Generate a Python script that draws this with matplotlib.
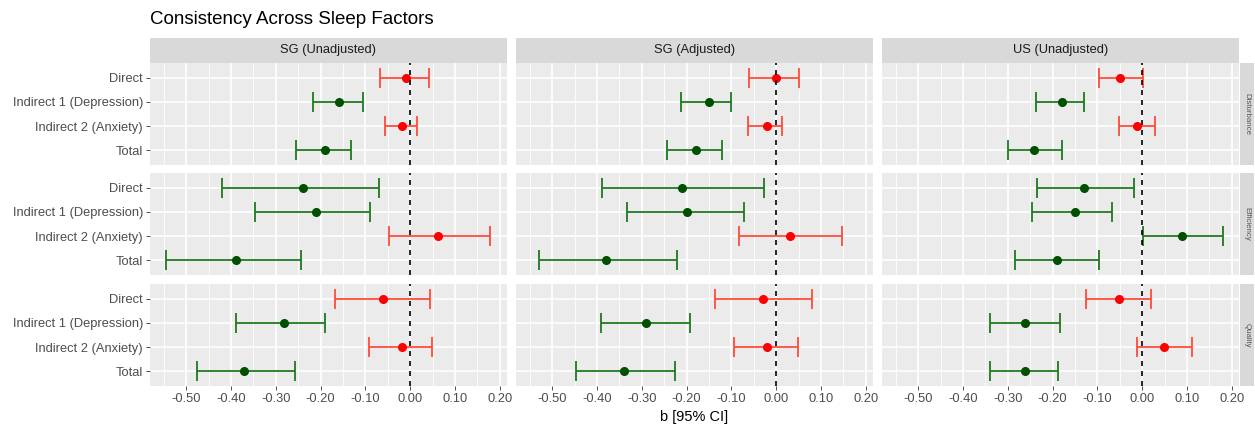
import numpy as np
import matplotlib
matplotlib.use("Agg")
from matplotlib import pyplot as plt

plt.rcParams['font.family'] = ['Liberation Sans', 'DejaVu Sans']

columns = ["SG (Unadjusted)", "SG (Adjusted)", "US (Unadjusted)"]
factors = ["Disturbance", "Efficiency", "Quality"]
effects = ["Direct", "Indirect 1 (Depression)", "Indirect 2 (Anxiety)", "Total"]

# rows = factors (Disturbance, Efficiency, Quality), cols = effects
sg_unadj_est = [[-0.010, -0.160, -0.019, -0.190],
                [-0.240, -0.210, 0.061, -0.390],
                [-0.060, -0.281, -0.019, -0.371]]
sg_unadj_lo = [[-0.067, -0.217, -0.056, -0.254],
               [-0.420, -0.346, -0.047, -0.545],
               [-0.167, -0.388, -0.092, -0.477]]
sg_unadj_hi = [[0.042, -0.106, 0.015, -0.133],
               [-0.069, -0.089, 0.177, -0.244],
               [0.045, -0.191, 0.048, -0.257]]

sg_adj_est = [[0.000, -0.150, -0.020, -0.179],
              [-0.210, -0.199, 0.030, -0.379],
              [-0.030, -0.290, -0.020, -0.340]]
sg_adj_lo = [[-0.060, -0.212, -0.062, -0.243],
             [-0.388, -0.333, -0.083, -0.529],
             [-0.137, -0.392, -0.094, -0.446]]
sg_adj_hi = [[0.051, -0.101, 0.013, -0.122],
             [-0.028, -0.073, 0.146, -0.222],
             [0.080, -0.192, 0.048, -0.226]]

us_unadj_est = [[-0.050, -0.180, -0.011, -0.241],
                [-0.130, -0.150, 0.089, -0.190],
                [-0.051, -0.261, 0.049, -0.261]]
us_unadj_lo = [[-0.097, -0.237, -0.053, -0.299],
               [-0.234, -0.247, 0.002, -0.285],
               [-0.126, -0.341, -0.012, -0.341]]
us_unadj_hi = [[0.002, -0.129, 0.029, -0.180],
               [-0.019, -0.068, 0.180, -0.097],
               [0.019, -0.183, 0.111, -0.187]]

estimates = [sg_unadj_est, sg_adj_est, us_unadj_est]
lowers = [sg_unadj_lo, sg_adj_lo, us_unadj_lo]
uppers = [sg_unadj_hi, sg_adj_hi, us_unadj_hi]

W, H = 1255, 426
fig = plt.figure(figsize=(W / 100, H / 100), dpi=100)


def box(l, t, r, b):
    return [l / W, 1 - b / H, (r - l) / W, (b - t) / H]


col_x = [(150, 507), (516, 873), (882, 1239)]
row_y = [(63, 165), (173, 275), (284, 386)]

major = np.round(np.arange(-0.5, 0.21, 0.1), 2)
minor = np.round(np.arange(-0.55, 0.16, 0.1), 2)
ypos = np.arange(1, len(effects) + 1)

for j, (l, r) in enumerate(col_x):
    for i, (t, b) in enumerate(row_y):
        ax = fig.add_axes(box(l, t, r, b))
        ax.set_facecolor('#EBEBEB')
        for s in ax.spines.values():
            s.set_visible(False)
        ax.set_xlim(-0.581, 0.216)
        ax.set_ylim(4.6, 0.4)
        ax.set_xticks(major)
        ax.set_xticks(minor, minor=True)
        ax.set_yticks(ypos)
        ax.grid(True, which='major', color='white', lw=1.2, zorder=0)
        ax.grid(True, which='minor', axis='x', color='white', lw=0.6, zorder=0)
        ax.set_axisbelow(True)

        est = np.array(estimates[j][i])
        lo = np.array(lowers[j][i])
        hi = np.array(uppers[j][i])
        for k in range(len(effects)):
            sig = lo[k] > 0 or hi[k] < 0
            ecol = '#1f7a1f' if sig else '#ff4b3a'
            pcol = '#005000' if sig else '#ff0000'
            ax.errorbar(est[k], ypos[k], xerr=[[est[k] - lo[k]], [hi[k] - est[k]]],
                        fmt='none', ecolor=ecol, elinewidth=1.3, capsize=7.5,
                        capthick=1.3, zorder=2)
            ax.plot(est[k], ypos[k], 'o', color=pcol, ms=5.5, zorder=3)
        ax.axvline(0, color='black', lw=1.2, ls=(0, (3, 3)), zorder=4)

        ax.tick_params(which='minor', length=0)
        ax.tick_params(which='major', colors='#333333', labelcolor='#4D4D4D',
                       labelsize=9.3, width=0.6, length=3, pad=2)
        if i == len(row_y) - 1:
            ax.set_xticklabels([f"{v + 0:.2f}" for v in major])
        else:
            ax.tick_params(axis='x', length=0, labelbottom=False)
        if j == 0:
            ax.set_yticklabels(effects)
        else:
            ax.tick_params(axis='y', length=0, labelleft=False)

    # top strip
    sax = fig.add_axes(box(l, 38, r, 63))
    sax.set_facecolor('#D9D9D9')
    sax.set_xticks([])
    sax.set_yticks([])
    for s in sax.spines.values():
        s.set_visible(False)
    sax.text(0.5, 0.5, columns[j], ha='center', va='center', fontsize=9.3,
             color='#1A1A1A', transform=sax.transAxes)

# right strips
for i, (t, b) in enumerate(row_y):
    rax = fig.add_axes(box(1240, t, 1254, b))
    rax.set_facecolor('#D9D9D9')
    rax.set_xticks([])
    rax.set_yticks([])
    for s in rax.spines.values():
        s.set_visible(False)
    rax.text(0.5, 0.5, factors[i], ha='center', va='center', fontsize=5.7,
             rotation=270, color='#555555', transform=rax.transAxes)

fig.text(150 / W, 1 - 20 / H, "Consistency Across Sleep Factors", ha='left',
         va='center', fontsize=13.5, color='black')
fig.text((516 + 873) / 2 / W, 1 - 417 / H, "b [95% CI]", ha='center',
         va='center', fontsize=10.5, color='black')

fig.savefig("out.png", dpi=100)
